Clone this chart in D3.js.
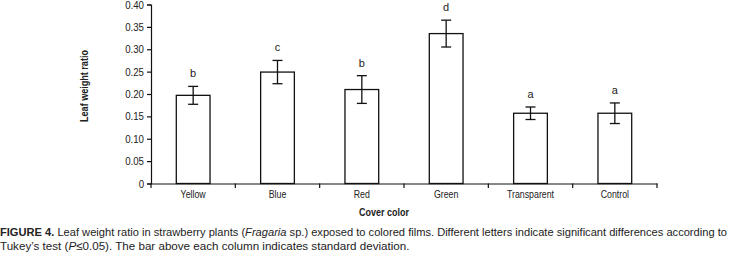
<!DOCTYPE html>
<html><head><meta charset="utf-8">
<script src="https://cdn.jsdelivr.net/npm/d3@7"></script>
<style>
body{margin:0;background:#fff;}
svg{display:block;}
text{font-family:"Liberation Sans",Arial,sans-serif;fill:#222;}
</style></head>
<body><svg id="c" width="730" height="262"></svg>
<script>
const categories = ["Yellow","Blue","Red","Green","Transparent","Control"];
const means = [0.197, 0.249, 0.210, 0.335, 0.157, 0.157];
const sds = [0.020, 0.026, 0.031, 0.030, 0.014, 0.023];
const letters = ["b","c","b","d","a","a"];
const yTicks = [0,0.05,0.10,0.15,0.20,0.25,0.30,0.35,0.40];
const yTickLabels = ["0","0.05","0.10","0.15","0.20","0.25","0.30","0.35","0.40"];

const svg = d3.select("#c");
const x = d3.scaleBand().domain(categories).range([151,657]).paddingInner(0.6).paddingOuter(0.3);
const y = d3.scaleLinear().domain([0,0.40]).range([183.5,4.5]);

// horizontal squeeze around an anchor x
function squeeze(sel, s){
  sel.each(function(){
    const ax = +(this.getAttribute("x")||0);
    d3.select(this).attr("transform",`translate(${ax},0) scale(${s},1) translate(${-ax},0)`);
  });
}

// y axis
const yAxis = d3.axisLeft(y).tickValues(yTicks).tickFormat((d,i)=>yTickLabels[i]).tickSize(4).tickPadding(3);
const gy = svg.append("g").attr("transform","translate(151,0)").call(yAxis);
gy.select(".domain").attr("stroke","#111").attr("stroke-width",1.2);
gy.selectAll(".tick line").attr("stroke","#111").attr("stroke-width",1.2);
gy.selectAll("text").style("font-size","11px").attr("fill","#333").call(squeeze,0.88);

// x axis
const gx = svg.append("g").attr("transform","translate(0,183.5)").call(d3.axisBottom(x).tickSize(0).tickPadding(7));
gx.select(".domain").attr("stroke","#111").attr("stroke-width",1.2);
gx.selectAll("text").style("font-size","11px").attr("fill","#333").call(squeeze,0.8);
const edges = categories.map(c => x(c) - (x.step()-x.bandwidth())/2).concat([x(categories[5]) + x.bandwidth() + (x.step()-x.bandwidth())/2]);
svg.append("g").selectAll("line").data(edges).join("line")
  .attr("x1",d=>d).attr("x2",d=>d).attr("y1",183.5).attr("y2",188)
  .attr("stroke","#111").attr("stroke-width",1.2);

// bars
const data = categories.map((c,i)=>({c,m:means[i],s:sds[i],l:letters[i]}));
svg.append("g").selectAll("rect").data(data).join("rect")
  .attr("x",d=>x(d.c)).attr("width",x.bandwidth())
  .attr("y",d=>y(d.m)).attr("height",d=>y(0)-y(d.m))
  .attr("fill","#fff").attr("stroke","#111").attr("stroke-width",1.3);

// error bars
const eb = svg.append("g").attr("stroke","#111").attr("stroke-width",1.3);
data.forEach(d=>{
  const cx = x(d.c)+x.bandwidth()/2;
  eb.append("line").attr("x1",cx).attr("x2",cx).attr("y1",y(d.m+d.s)).attr("y2",y(d.m-d.s));
  eb.append("line").attr("x1",cx-5).attr("x2",cx+5).attr("y1",y(d.m+d.s)).attr("y2",y(d.m+d.s));
  eb.append("line").attr("x1",cx-5).attr("x2",cx+5).attr("y1",y(d.m-d.s)).attr("y2",y(d.m-d.s));
});

// letters
svg.append("g").selectAll("text").data(data).join("text")
  .attr("x",d=>x(d.c)+x.bandwidth()/2).attr("y",d=>y(d.m+d.s)-13)
  .attr("text-anchor","middle").attr("dominant-baseline","central")
  .style("font-size","11px").attr("fill","#333").text(d=>d.l);

// axis titles
function fitText(parent, txt, cx, cy, w, rot, size){
  const t = parent.append("text").attr("text-anchor","middle").attr("dominant-baseline","central")
    .style("font-size",size).style("font-weight","bold").attr("fill","#222").text(txt);
  const len = t.node().getComputedTextLength();
  t.attr("transform",`translate(${cx},${cy}) rotate(${rot}) scale(${w/len},1)`);
  return t;
}
fitText(svg,"Leaf weight ratio",84,86,72,-90,"10.5px");
fitText(svg,"Cover color",384,212,50,0,"10.5px");

// caption
function captionLine(yPos, parts, width){
  const t = svg.append("text").attr("x",0).attr("y",0).style("font-size","11.5px").attr("fill","#222");
  parts.forEach(p=>{
    const ts = t.append("tspan").text(p.t);
    if(p.b) ts.style("font-weight","bold");
    if(p.i) ts.style("font-style","italic");
  });
  const len = t.node().getComputedTextLength();
  t.attr("transform",`translate(0,${yPos}) scale(${width/len},1)`);
}
captionLine(236,[{t:"FIGURE 4.",b:true},{t:" Leaf weight ratio in strawberry plants ("},{t:"Fragaria",i:true},{t:" sp.) exposed to colored films. Different letters indicate significant differences according to"}],728);
captionLine(250,[{t:"Tukey\u2019s test ("},{t:"P",i:true},{t:"\u22640.05). The bar above each column indicates standard deviation."}],410);
</script></body></html>
